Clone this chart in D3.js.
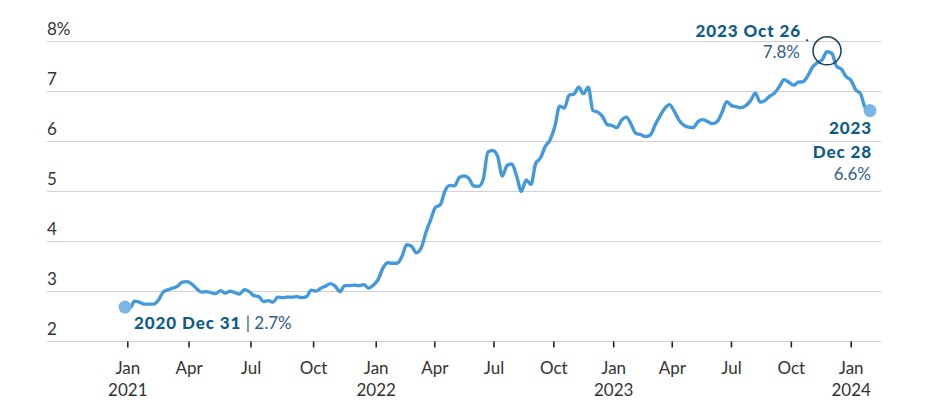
<!DOCTYPE html>
<meta charset="utf-8">
<script src="https://cdn.jsdelivr.net/npm/d3@7"></script>
<style>
  body { margin: 0; background: #fff; }
  text { font-family: Lato, "Open Sans", sans-serif; }
</style>
<body>
<script>

// weekly 30-year fixed rate, %
var startDate = "2020-12-31";
var rates = [
  2.67,
  // 2021
  2.65, 2.79, 2.77, 2.73, 2.73, 2.73, 2.81, 2.97, 3.02, 3.05, 3.09, 3.17, 3.18,
  3.13, 3.04, 2.97, 2.98, 2.96, 2.94, 3.00, 2.95, 2.99, 2.96, 2.93, 3.02, 2.98,
  2.90, 2.88, 2.78, 2.80, 2.77, 2.87, 2.86, 2.87, 2.87, 2.88, 2.86, 2.88, 3.01,
  2.99, 3.05, 3.09, 3.14, 3.09, 2.98, 3.10, 3.10, 3.11, 3.10, 3.12, 3.05, 3.11,
  // 2022
  3.22, 3.45, 3.56, 3.55, 3.55, 3.69, 3.92, 3.89, 3.76, 3.85, 4.16, 4.42, 4.67,
  4.72, 5.00, 5.11, 5.10, 5.27, 5.30, 5.25, 5.10, 5.09, 5.23, 5.78, 5.81, 5.70,
  5.30, 5.51, 5.54, 5.30, 4.99, 5.22, 5.13, 5.55, 5.66, 5.89, 6.02, 6.29, 6.70,
  6.66, 6.92, 6.94, 7.08, 6.95, 7.08, 6.61, 6.58, 6.49, 6.33, 6.31, 6.27, 6.42,
  // 2023
  6.48, 6.33, 6.15, 6.13, 6.09, 6.12, 6.32, 6.50, 6.65, 6.73, 6.60, 6.42, 6.32,
  6.28, 6.27, 6.39, 6.43, 6.39, 6.35, 6.39, 6.57, 6.79, 6.71, 6.69, 6.67, 6.71,
  6.81, 6.96, 6.78, 6.81, 6.90, 6.96, 7.09, 7.23, 7.18, 7.12, 7.18, 7.19, 7.31,
  7.49, 7.57, 7.63, 7.79, 7.76, 7.50, 7.44, 7.29, 7.22, 7.03, 6.95, 6.67, 6.61
];
var yTicks = [2, 3, 4, 5, 6, 7, 8];
var monthLabels = ["Jan", "Apr", "Jul", "Oct"];
var peakDate = "2023-10-26";

var width = 948, height = 420;
var lineColor = "#4499db",
    dotColor = "#7ab7e6",
    darkBlue = "#0e5b88",
    midBlue = "#2f6088",
    fontSize = 17;

var parse = d3.timeParse("%Y-%m-%d");
var t0 = parse(startDate);
var data = rates.map(function(v, i) {
  return {date: d3.timeDay.offset(t0, i * 7), value: v};
});
var first = data[0], last = data[data.length - 1];
var peak = data.find(function(d) { return +d.date === +parse(peakDate); });

var svg = d3.select("body").append("svg")
    .attr("width", width)
    .attr("height", height);

var x = d3.scaleTime()
    .domain([first.date, last.date])
    .range([125, 870]);

// the axis labels sit on their own (slightly different) spacing
var xTickScale = d3.scaleTime()
    .domain([new Date(2021, 0, 1), new Date(2022, 0, 1), new Date(2024, 0, 1)])
    .range([127.3, 375.7, 850.7]);

var y = d3.scaleLinear()
    .domain([2, 8])
    .range([340.5, 41.3]);

// gridlines + y labels
var grid = svg.append("g");
grid.selectAll("line").data(yTicks).enter().append("line")
    .attr("x1", 47).attr("x2", 881)
    .attr("y1", function(d) { return Math.round(y(d)) + 0.5; })
    .attr("y2", function(d) { return Math.round(y(d)) + 0.5; })
    .attr("stroke", "#d2d2d2")
    .attr("stroke-width", 1.2);
grid.selectAll("text").data(yTicks).enter().append("text")
    .attr("x", 47)
    .attr("y", function(d) { return y(d) - 6; })
    .attr("font-size", fontSize)
    .attr("fill", "#333")
    .text(function(d) { return d === 8 ? d + "%" : d; });

// x axis
var xAxis = d3.axisBottom(xTickScale)
    .ticks(d3.timeMonth.every(3))
    .tickSize(6)
    .tickFormat(function(d) { return monthLabels[d.getMonth() / 3]; });

var gx = svg.append("g")
    .attr("transform", "translate(0," + (Math.round(y(2)) + 0.5) + ")")
    .call(xAxis);
gx.select(".domain").remove();
gx.selectAll(".tick line").attr("stroke", "#222").attr("stroke-width", 1.6);
gx.selectAll(".tick text")
    .attr("font-size", fontSize)
    .attr("fill", "#333")
    .attr("font-family", "Lato, 'Open Sans', sans-serif")
    .attr("y", 32)
    .attr("dy", 0);
gx.selectAll(".tick").filter(function(d) { return d.getMonth() === 0; })
    .append("text")
    .attr("y", 54)
    .attr("text-anchor", "middle")
    .attr("font-size", fontSize)
    .attr("fill", "#333")
    .text(function(d) { return d.getFullYear(); });

// the line
var line = d3.line()
    .x(function(d) { return x(d.date); })
    .y(function(d) { return y(d.value); })
    .curve(d3.curveMonotoneX);

svg.append("path")
    .datum(data)
    .attr("d", line)
    .attr("fill", "none")
    .attr("stroke", lineColor)
    .attr("stroke-width", 3.4)
    .attr("stroke-linejoin", "round");

// end dots
svg.selectAll(".dot").data([first, last]).enter().append("circle")
    .attr("class", "dot")
    .attr("cx", function(d) { return x(d.date); })
    .attr("cy", function(d) { return y(d.value); })
    .attr("r", 6.5)
    .attr("fill", dotColor);

// peak ring
svg.append("circle")
    .attr("cx", x(peak.date))
    .attr("cy", y(peak.value) - 1)
    .attr("r", 14)
    .attr("fill", "none")
    .attr("stroke", "#17405f")
    .attr("stroke-width", 1.5);
svg.append("line")
    .attr("x1", x(peak.date) - 21).attr("y1", y(peak.value) - 12)
    .attr("x2", x(peak.date) - 19).attr("y2", y(peak.value) - 11)
    .attr("stroke", "#17405f")
    .attr("stroke-width", 1.5);

var fmt = d3.format(".1f");

function bold(sel) {
  return sel.attr("font-weight", 900)
      .attr("letter-spacing", "0.9px")
      .attr("fill", darkBlue);
}

// start label
var sl = svg.append("text")
    .attr("x", x(first.date) + 9)
    .attr("y", 329)
    .attr("font-size", fontSize);
sl.append("tspan").call(bold).text("2020 Dec 31");
sl.append("tspan").attr("fill", midBlue).attr("letter-spacing", 0)
    .text(" | " + fmt(first.value) + "%");

// peak label
svg.append("text")
    .attr("x", 801).attr("y", 37)
    .attr("text-anchor", "end")
    .attr("font-size", fontSize)
    .call(bold)
    .text("2023 Oct 26");
svg.append("text")
    .attr("x", 800).attr("y", 58)
    .attr("text-anchor", "end")
    .attr("font-size", fontSize).attr("fill", midBlue)
    .text(fmt(peak.value) + "%");

// end label
var el = svg.append("g").attr("text-anchor", "end").attr("font-size", fontSize);
el.append("text").attr("x", 872).attr("y", 134).call(bold).text("2023");
el.append("text").attr("x", 872).attr("y", 158).call(bold).text("Dec 28");
el.append("text").attr("x", 871).attr("y", 180)
    .attr("fill", midBlue).text(fmt(last.value) + "%");

</script>
</body>
